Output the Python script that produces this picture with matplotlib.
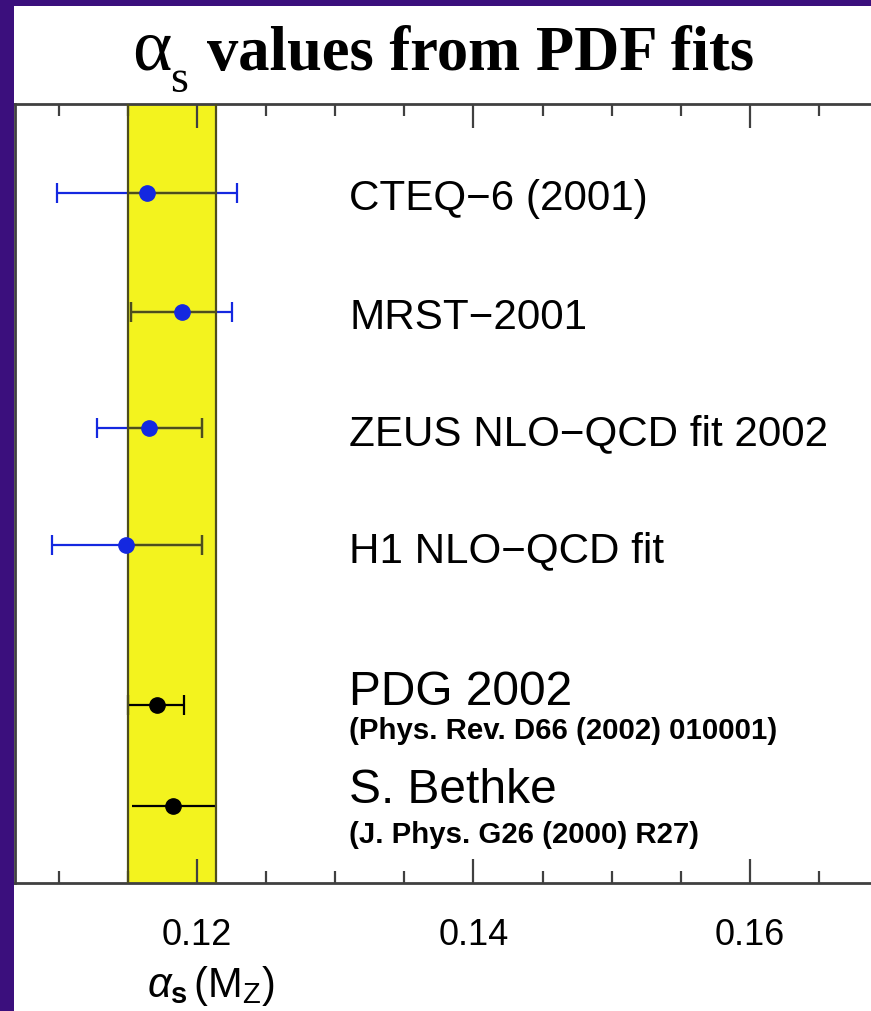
import matplotlib
matplotlib.use("Agg")
import matplotlib.pyplot as plt
from matplotlib.patches import Rectangle
from matplotlib.ticker import MultipleLocator, FormatStrFormatter

plt.rcParams['font.family'] = ['Liberation Sans', 'DejaVu Sans']
plt.rcParams['mathtext.fontset'] = 'custom'
plt.rcParams['mathtext.rm'] = 'Liberation Sans'
plt.rcParams['mathtext.it'] = 'Liberation Sans:italic'
plt.rcParams['mathtext.bf'] = 'Liberation Sans:bold'

# fits
names = ["CTEQ\u22126 (2001)", "MRST\u22122001", "ZEUS NLO\u2212QCD fit 2002",
         "H1 NLO\u2212QCD fit", "PDG 2002", "S. Bethke"]
refs = ["", "", "", "", "(Phys. Rev. D66 (2002) 010001)", "(J. Phys. G26 (2000) R27)"]
alpha_s = [0.1164, 0.1189, 0.1165, 0.1149, 0.1171, 0.1183]
err_lo = [0.1099, 0.1152, 0.1128, 0.1095, 0.1150, 0.1153]
err_hi = [0.1229, 0.1225, 0.1204, 0.1204, 0.1191, 0.1214]
band = [0.1150, 0.1214]
xticks = [0.12, 0.14, 0.16]

# layout
rows = [0, 1.01, 2.0, 3.0, 4.36, 5.22]
colors = ['#1428e0'] * 4 + ['black'] * 2
caps = [7, 7, 7, 7, 7, 0]
purple = '#3b0f7d'
olive = '#4d4d1c'

fig = plt.figure(figsize=(8.71, 10.11), dpi=100)
fig.patch.set_facecolor(purple)
fig.add_artist(Rectangle((0.016, 0), 0.984, 0.994, transform=fig.transFigure,
                         facecolor='white', edgecolor='none', zorder=0))

ax = fig.add_axes([0.0172, 0.1266, 0.9828, 0.7705])
ax.set_xlim(0.10684, 0.16875)
ax.set_ylim(5.88, -0.76)

span = ax.axvspan(band[0], band[1], facecolor='#f3f31e', edgecolor='none', zorder=1)
for b in band:
    ax.axvline(b, color=olive, lw=1.6, zorder=3)

for i in range(len(names)):
    xerr = [[alpha_s[i] - err_lo[i]], [err_hi[i] - alpha_s[i]]]
    ax.errorbar([alpha_s[i]], [rows[i]], xerr=xerr, fmt='none', ecolor=colors[i],
                elinewidth=1.6, capsize=caps[i], capthick=1.6, zorder=2)
    if colors[i] != 'black':
        # the part of the bar inside the yellow band looks dark
        eb = ax.errorbar([alpha_s[i]], [rows[i]], xerr=xerr, fmt='none', ecolor=olive,
                         elinewidth=1.6, capsize=caps[i], capthick=1.6, zorder=3)
        for art in list(eb.lines[1]) + list(eb.lines[2]):
            art.set_clip_path(span)
    ax.plot([alpha_s[i]], [rows[i]], 'o', color=colors[i], ms=11, zorder=4)

# labels
label_x = 0.1310
for i in range(4):
    ax.text(label_x, rows[i] + 0.145, names[i], fontsize=30.3, va='baseline', ha='left')
ax.text(label_x, rows[4], names[4], fontsize=34.5, va='baseline', ha='left')
ax.text(label_x, rows[4] + 0.29, refs[4], fontsize=21.2, fontweight='bold', va='baseline', ha='left')
ax.text(label_x, rows[5] - 0.02, names[5], fontsize=34.5, va='baseline', ha='left')
ax.text(label_x, rows[5] + 0.32, refs[5], fontsize=21.2, fontweight='bold', va='baseline', ha='left')

ax.set_xticks(xticks)
ax.xaxis.set_major_formatter(FormatStrFormatter('%.2f'))
ax.xaxis.set_minor_locator(MultipleLocator(0.005))
ax.set_yticks([])
ax.tick_params(axis='x', which='both', direction='in', top=True, bottom=True,
               color='#404040', width=1.6)
ax.tick_params(axis='x', which='major', length=17, labelsize=26, pad=25)
ax.tick_params(axis='x', which='minor', length=8.5)
for s in ['left', 'top', 'bottom']:
    ax.spines[s].set_color('#404040')
    ax.spines[s].set_linewidth(2)
ax.spines['right'].set_visible(False)

fig.text(0.169, 0.025, r'$\alpha_{\mathbf{s}}\,(\mathrm{M_Z})$', fontsize=30, ha='left', va='center')

# title in three pieces: alpha, subscript s, rest
fig.text(0.1515, 0.931, '\u03b1', family='Liberation Serif', fontsize=54,
         ha='left', va='baseline')
fig.text(0.195, 0.909, 's', family='Liberation Serif', fontsize=33,
         ha='left', va='baseline')
fig.text(0.2377, 0.931, 'values from PDF fits', family='Liberation Serif',
         fontweight='bold', fontsize=45, ha='left', va='baseline')

fig.savefig('out.png', dpi=100, facecolor=fig.get_facecolor())
